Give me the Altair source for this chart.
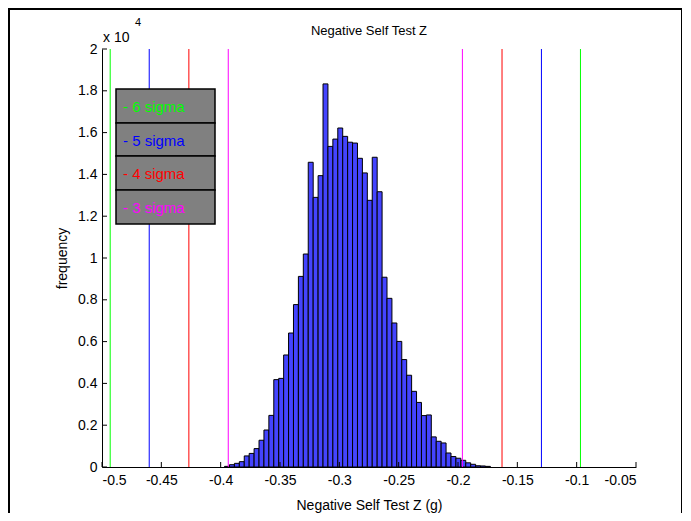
import altair as alt
import pandas as pd

# ---- data ----
BIN_START = -0.39671
BIN_WIDTH = 0.004148
counts = [30, 110, 175, 255, 530, 650, 880, 1280, 1770, 2470,
          4180, 4240, 5360, 6410, 7770, 9120, 10190, 14580, 12900, 13940,
          18330, 15340, 15690, 16220, 15820, 15540, 15500, 14770, 14070, 12760,
          14820, 13170, 9080, 8070, 6890, 6010, 5140, 4390, 3620, 3090,
          2460, 2490, 1440, 1230, 1150, 670, 500, 420, 320, 200,
          130, 60, 50, 30]

sigma_x = [-0.4931, -0.4602, -0.4268, -0.3936, -0.1963, -0.1629, -0.1297, -0.0968]
sigma_key = ["6", "5", "4", "3", "3", "4", "5", "6"]
sigma_names = ["6", "5", "4", "3"]
sigma_colors = ["#00ff00", "#0000ff", "#ff0000", "#ff00ff"]
legend_labels = ["- 6 sigma", "- 5 sigma", "- 4 sigma", "- 3 sigma"]

x_tick_values = [-0.5, -0.45, -0.4, -0.35, -0.3, -0.25, -0.2, -0.15, -0.1, -0.05]
y_tick_values = [0, 2000, 4000, 6000, 8000, 10000, 12000, 14000, 16000, 18000, 20000]

W, H = 534, 418
FONT = "Liberation Sans"

bars = pd.DataFrame({
    "x0": [BIN_START + i * BIN_WIDTH for i in range(len(counts))],
    "x1": [BIN_START + (i + 1) * BIN_WIDTH for i in range(len(counts))],
    "count": counts,
})
sig = pd.DataFrame({"x0": sigma_x, "k": sigma_key})
xt = pd.DataFrame({"x0": x_tick_values})
yt = pd.DataFrame({"count": y_tick_values})

xscale = alt.Scale(domain=[-0.5, -0.05], nice=False, zero=False)
yscale = alt.Scale(domain=[0, 20000], nice=False)

x_axis = alt.Axis(values=x_tick_values, labelExpr="'' + datum.value", title="Negative Self Test Z (g)",
                  titleX=W / 2, titleY=38, titleBaseline="middle", titleFontSize=14,
                  labelPadding=6)
y_axis = alt.Axis(values=y_tick_values, labelExpr="'' + (datum.value / 10000)", title="frequency",
                  titleX=-40, titleY=H / 2, titleBaseline="middle", titleFontSize=14,
                  labelPadding=5)

X = lambda: alt.X("x0:Q", scale=xscale, axis=x_axis)
Y = lambda: alt.Y("count:Q", scale=yscale, axis=y_axis)

hist = alt.Chart(bars).mark_rect(fill="#4444ff", stroke="black", strokeWidth=1).encode(
    x=X(),
    x2="x1:Q",
    y=Y(),
    y2=alt.datum(0),
)

lines = alt.Chart(sig).mark_rule(strokeWidth=1).encode(
    x=X(),
    y=alt.value(0),
    y2=alt.value(H),
    color=alt.Color("k:N", scale=alt.Scale(domain=sigma_names, range=sigma_colors), legend=None),
)

xticks = alt.Chart(xt).mark_rule(color="black", strokeWidth=1).encode(
    x=X(),
    y=alt.value(H - 5),
    y2=alt.value(H),
)
yticks = alt.Chart(yt).mark_rule(color="black", strokeWidth=1).encode(
    y=Y(),
    x=alt.value(0),
    x2=alt.value(5),
)

layers = [hist, lines, xticks, yticks]

# legend boxes (annotation)
row_tops = [40, 74, 107, 141]
for i, (lab, col) in enumerate(zip(legend_labels, sigma_colors)):
    top = row_tops[i]
    bottom = row_tops[i + 1] if i < 3 else 175
    box = alt.Chart(pd.DataFrame({"a": [0]})).mark_rect(
        fill="#808080", stroke="black", strokeWidth=1.5
    ).encode(x=alt.value(14), x2=alt.value(113), y=alt.value(top), y2=alt.value(bottom))
    txt = alt.Chart(pd.DataFrame({"a": [0]})).mark_text(
        align="left", baseline="middle", font=FONT, fontSize=15, color=col
    ).encode(x=alt.value(21), y=alt.value((top + bottom) / 2 + 1), text=alt.value(lab))
    layers += [box, txt]

title = alt.Chart(pd.DataFrame({"a": [0]})).mark_text(
    align="center", baseline="middle", font=FONT, fontSize=13, color="black"
).encode(x=alt.value(W / 2), y=alt.value(-18), text=alt.value("Negative Self Test Z"))
mult = alt.Chart(pd.DataFrame({"a": [0]})).mark_text(
    align="left", baseline="middle", font=FONT, fontSize=14, color="black"
).encode(x=alt.value(1), y=alt.value(-11), text=alt.value("x 10"))
expo = alt.Chart(pd.DataFrame({"a": [0]})).mark_text(
    align="left", baseline="middle", font=FONT, fontSize=11, color="black"
).encode(x=alt.value(33), y=alt.value(-26), text=alt.value("4"))
frame = alt.Chart(pd.DataFrame({"a": [0]})).mark_rect(
    fillOpacity=0, stroke="black", strokeWidth=2
).encode(x=alt.value(-93), x2=alt.value(580), y=alt.value(-40), y2=alt.value(475))

layers += [title, mult, expo, frame]

chart = alt.layer(*layers).properties(
    width=W, height=H,
    autosize=alt.AutoSizeParams(type="none"),
    padding={"left": 94, "top": 41, "right": 46, "bottom": 46},
    background="white",
).configure_view(stroke=None).configure_axis(
    grid=False, domainColor="black", domainWidth=1, tickSize=0,
    labelFont=FONT, labelFontSize=14, labelColor="black",
    titleFont=FONT, titleFontWeight="normal", titleColor="black",
)

chart.save("out.html", embed_options={"renderer": "svg", "actions": False})
